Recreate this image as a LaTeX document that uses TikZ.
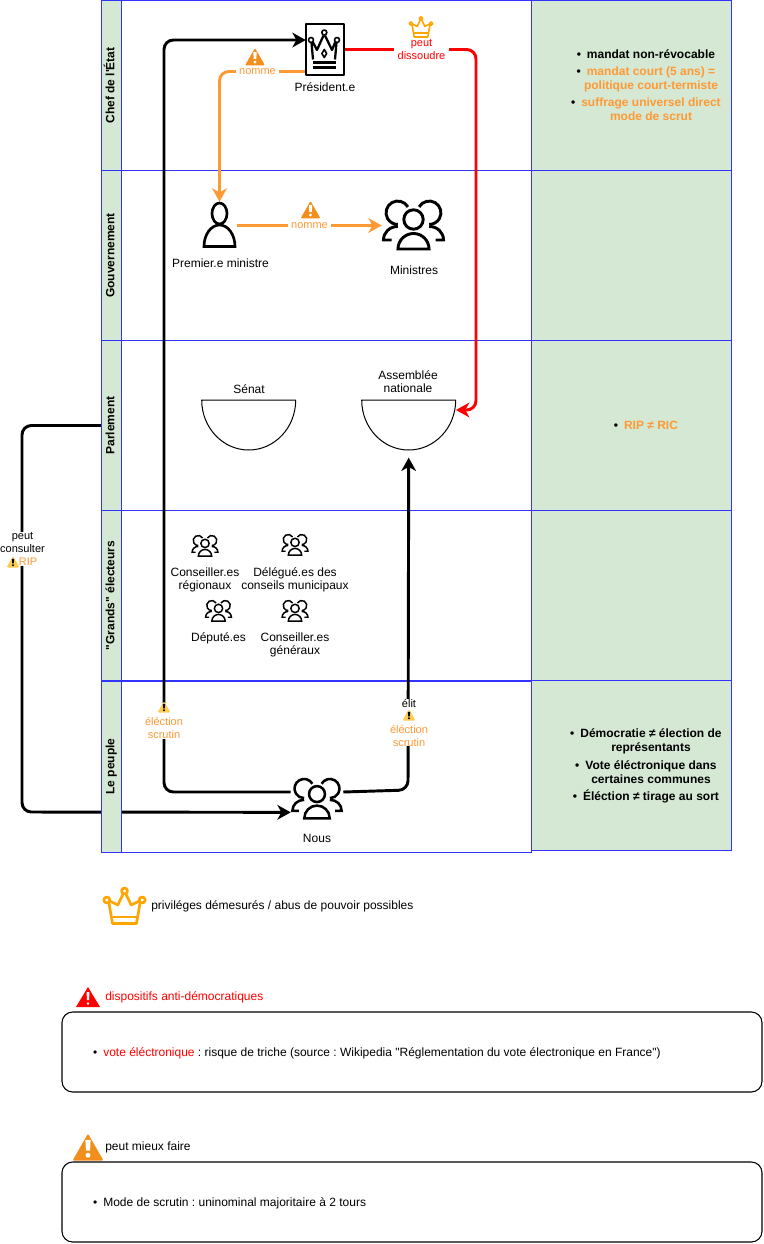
\documentclass[tikz,border=0pt]{standalone}
\usepackage{fontspec}
\setmainfont{Liberation Sans}
\usetikzlibrary{arrows.meta,backgrounds}
\definecolor{bleu}{HTML}{3333FF}
\definecolor{vert}{HTML}{D5E8D4}
\definecolor{orangeclair}{HTML}{FF9933}
\definecolor{orangefonce}{HTML}{F28E1C}
\definecolor{couronne}{HTML}{FFA500}
\definecolor{jaune}{HTML}{FFCC4D}
\frenchspacing
\newcommand{\puce}{\llap{\textcolor{black}{\textbullet}\hspace{4.5pt}}}
\newcommand{\signe}[2]{
  \fill[#1,rounded corners=1pt] (-10,-8.5) -- (0,9) -- (10,-8.5) -- cycle;
  \fill[#2] (-1.3,-2) -- (1.3,-2) -- (1.7,5) -- (-1.7,5) -- cycle (0,-5) circle (1.6);
}
\tikzset{
  entete/.style={draw=bleu,fill=vert,rotate=90,minimum width=127.5pt,minimum height=15pt,inner sep=0pt,text height=7pt,text depth=2.7pt,font=\fontsize{9}{10}\selectfont\bfseries},
  lane/.style={draw=bleu,minimum width=307.5pt,minimum height=127.5pt},
  cote/.style={draw=bleu,fill=vert,minimum width=149.6pt,minimum height=127.5pt},
  txt/.style={align=center,inner sep=0pt},
  gras/.style={txt,font=\fontsize{9}{10.4}\selectfont\bfseries},
  lbl/.style={align=center,fill=white,inner xsep=2.5pt,inner ysep=0pt,font=\fontsize{8.25}{9.75}\selectfont},
  icone/.style={inner sep=0pt},
  fil/.style={line width=2.2pt,rounded corners=7pt,-{Stealth[length=10pt,width=11pt,inset=3pt]}},
  bulle/.style={draw,rounded corners=8pt,minimum width=525pt,minimum height=60pt,line width=.8pt},
  pics/groupe/.style={code={
    \begin{scope}[x=.75pt,y=.75pt]
    \draw (0,6) circle (9.7);
    \draw (-15.5,-23.5) arc[start angle=180,end angle=0,x radius=15.5,y radius=15.5] -- cycle;
    \draw (-5.6,18.6) arc[start angle=30,end angle=270,radius=11.7];
    \draw (5.6,18.6) arc[start angle=150,end angle=-90,radius=11.7];
    \draw (-15.7,-1) .. controls (-24,-1) and (-30,-7) .. (-30,-14.5) -- (-22,-14.5);
    \draw (15.7,-1) .. controls (24,-1) and (30,-7) .. (30,-14.5) -- (22,-14.5);
    \end{scope}}},
  pics/personne/.style={code={
    \begin{scope}[x=.75pt,y=.75pt]
    \draw (0,11.5) ellipse (7.5 and 10.5);
    \draw (-15.5,-21.5) arc[start angle=180,end angle=0,x radius=15.5,y radius=21.5] -- cycle;
    \end{scope}}},
  pics/couronne/.style={code={
    \begin{scope}[x=.75pt,y=.75pt,draw=couronne,line join=round]
    \draw (-15.7,4) -- (-12,-17.5) -- (12,-17.5) -- (15.7,4);
    \draw (-12,-11) -- (12,-11);
    \draw (-14.8,5) -- (-6.7,1) -- (-1.3,12.2);
    \draw (14.8,5) -- (6.7,1) -- (1.3,12.2);
    \draw (-17.7,6) circle (3) (0,15) circle (3) (17.7,6) circle (3);
    \end{scope}}},
  pics/carte/.style={code={
    \begin{scope}[x=.75pt,y=.75pt,line join=round]
    \draw[line width=.9pt] (-19,-25.5) rectangle (19,25.5);
    \draw[line width=1.7pt] (-13.5,7) -- (-12,-10) (11.5,7) -- (10,-10);
    \draw[line width=1.7pt] (-12.5,8) -- (-8,-.5) -- (-1.5,14) (10.5,8) -- (7,-.5) -- (0,14);
    \draw[line width=1.2pt] (-.7,17) circle (2.5) (-14,9.5) circle (2.5) (12,9.5) circle (2.5);
    \draw[line width=1.2pt] (-.7,0) -- (1.7,-4) -- (-.7,-8) -- (-3.1,-4) -- cycle;
    \draw[line width=1.7pt] (-12,-13) -- (11,-13) (-12,-18) -- (11,-18);
    \end{scope}}},
  pics/hemi/.style={code={
    \begin{scope}[x=.75pt,y=.75pt]
    \draw[line width=.75pt] (-47,25) arc[start angle=180,end angle=360,x radius=47,y radius=50] -- cycle;
    \end{scope}}},
  pics/alerte/.style={code={
    \begin{scope}[x=.75pt,y=.75pt]
    \signe{orangefonce}{white}
    \end{scope}}},
  pics/alertejaune/.style={code={
    \begin{scope}[x=.75pt,y=.75pt]
    \signe{jaune}{black}
    \end{scope}}},
  pics/alerterouge/.style={code={
    \begin{scope}[x=.75pt,y=.75pt]
    \fill[red] (-12,-10) -- (0,10) -- (12,-10) -- cycle;
    \fill[white] (-1.1,-3) -- (1.1,-3) -- (1.4,5) -- (-1.4,5) -- cycle (0,-6.5) circle (1.4);
    \end{scope}}}
}
\begin{document}
\begin{tikzpicture}[x=.75pt,y=-.75pt,every node/.append style={font=\fontsize{9}{10}\selectfont}]
\useasboundingbox (0,0) rectangle (763,1244);
% colonne de droite
\node[cote] (c1) at (631.25,85.5) {};
\node[cote] (c2) at (631.25,255.5) {};
\node[cote] (c3) at (631.25,425.5) {};
\node[cote] (c4) at (631.25,595.5) {};
\node[cote] (c5) at (631.25,765.5) {};
% lignes
\node[lane] (l1) at (326.5,85.5) {};
\node[lane] (l2) at (326.5,255.5) {};
\node[lane] (l3) at (326.5,425.5) {};
\node[lane] (l4) at (326.5,595.5) {};
\node[lane,minimum height=128.25pt] (l5) at (326.5,766.5) {};
\node[entete] (hchef) at (111.5,85.5) {Chef de l\textquotesingle État};
\node[entete] (hgouv) at (111.5,255.5) {Gouvernement};
\node[entete] (hparl) at (111.5,425.5) {Parlement};
\node[entete] (hgrands) at (111.5,595.5) {\textquotedbl Grands\textquotedbl{} électeurs};
\node[entete,minimum width=128.25pt] (hpeuple) at (111.5,766.5) {Le peuple};
% acteurs
\node[icone,minimum width=28.5pt,minimum height=38.25pt] (president) at (325,49.5) {};
\node[txt] (tpresident) at (325,87) {Président.e};
\node[icone,minimum width=26pt,minimum height=34.5pt] (premier) at (219.5,225) {};
\node[txt] (tpremier) at (220.5,263) {Premier.e ministre};
\node[icone,minimum width=47.25pt,minimum height=38.25pt] (ministres) at (413.5,225.5) {};
\node[txt] (tministres) at (414,270) {Ministres};
\node[icone,minimum width=70.5pt,minimum height=37.5pt] (senat) at (248.7,425) {};
\node[txt] (tsenat) at (249,389) {Sénat};
\node[icone,minimum width=70.5pt,minimum height=37.5pt] (an) at (408.7,425) {};
\node[txt] (tan) at (408,381.5) {Assemblée\\nationale};
\node[icone,minimum width=39pt,minimum height=31.5pt] (nous) at (317,799) {};
\node[txt] (tnous) at (317,838) {Nous};
\node[txt] (treg) at (205,580) {Conseiller.es\\régionaux};
\node[txt] (tdel) at (295,580) {Délégué.es des\\conseils municipaux};
\node[txt] (tdep) at (218.5,638) {Député.es};
\node[txt] (tgen) at (295,645) {Conseiller.es\\généraux};
% liens
\begin{scope}[on background layer]
\draw[fil] (hparl.north) -| (22,812) -- ([yshift=-10pt]nous.west);
\end{scope}
\draw[fil] ([yshift=5.25pt]nous.west) -| (164,40) -- ([yshift=7.1pt]president.west);
\draw[fil] ([yshift=5.25pt]nous.east) -- (408,790) -- ([yshift=-5.5pt]an.south);
\draw[fil,red] (president.east) -| (476,410) -- ([yshift=11.25pt]an.east);
\draw[fil,orangeclair] ([yshift=-16.5pt]president.west) -| (premier.north);
\draw[fil,orangeclair] (premier.east |- ministres.west) -- (ministres.west);
\node[lbl,text=orangeclair] (nomme1) at (257.5,72) {nomme};
\node[lbl,text=orangeclair] (nomme2) at (309.5,225.5) {nomme};
\node[lbl,text=red] (dissoudre) at (421.5,49.5) {peut\\dissoudre};
\node[lbl] (consulter) at (22.5,549) {peut\\consulter\\\hspace{8.25pt}\textcolor{orangeclair}{RIP}};
\node[lbl,text=orangeclair] (scrutin1) at (164,721) {\strut~\\éléction\\scrutin};
\node[lbl,text=orangeclair] (scrutin2) at (409,722.5) {\textcolor{black}{élit}\\~\\éléction\\scrutin};
% icones
\pic at (president) {carte};
\pic[line width=2pt] at (premier) {personne};
\pic[line width=2.2pt] at (ministres) {groupe};
\pic[scale=.82,line width=1.9pt] at (nous) {groupe};
\pic[scale=.43,line width=1.1pt] at (205,546) {groupe};
\pic[scale=.43,line width=1.1pt] at (295,545) {groupe};
\pic[scale=.43,line width=1.1pt] at (218.5,611) {groupe};
\pic[scale=.43,line width=1.1pt] at (295,611) {groupe};
\pic at (senat) {hemi};
\pic at (an) {hemi};
\pic[scale=.57,line width=1.2pt] at (421,27) {couronne};
\pic[line width=2pt] at (124.5,906) {couronne};
\pic at (255,57) {alerte};
\pic at (310.5,210) {alerte};
\pic[scale=.65] at (13,562) {alertejaune};
\pic[scale=.65] at (164,707) {alertejaune};
\pic[scale=.65] at (409,715) {alertejaune};
% textes de droite
\node[gras] (droite1) at (651,85) {\puce mandat non-révocable\\[2.2pt]
  \textcolor{orangeclair}{\puce mandat court (5 ans) =}\\\textcolor{orangeclair}{politique court-termiste}\\[2.2pt]
  \textcolor{orangeclair}{\puce suffrage universel direct}\\\textcolor{orangeclair}{mode de scrut}};
\node[gras,text=orangeclair] (droite3) at (651,425) {\puce RIP ≠ RIC};
\node[gras] (droite5) at (651,766) {\puce Démocratie ≠ élection de\\représentants\\[2.6pt]
  \puce Vote éléctronique dans\\certaines communes\\[2.6pt]\puce Éléction ≠ tirage au sort};
% legendes
\node[txt,anchor=west] (tcouronne) at (151,906) {priviléges démesurés / abus de pouvoir possibles};
\pic at (88,997) {alerterouge};
\node[txt,anchor=west,text=red] (trouge) at (105,997) {dispositifs anti-démocratiques};
\node[bulle] (b1) at (412,1052) {};
\node[txt,anchor=west] (tb1) at (103,1053) {\puce\textcolor{red}{vote éléctronique} : risque de triche (source : Wikipedia \textquotedbl Réglementation du vote électronique en France\textquotedbl)};
\node[bulle] (b2) at (412,1202) {};
\pic[scale=1.55] at (88,1147.5) {alerte};
\node[txt,anchor=west] (torange) at (105,1147) {peut mieux faire};
\node[txt,anchor=west] (tb2) at (103,1203) {\puce Mode de scrutin : uninominal majoritaire à 2 tours};
\end{tikzpicture}
\end{document}
